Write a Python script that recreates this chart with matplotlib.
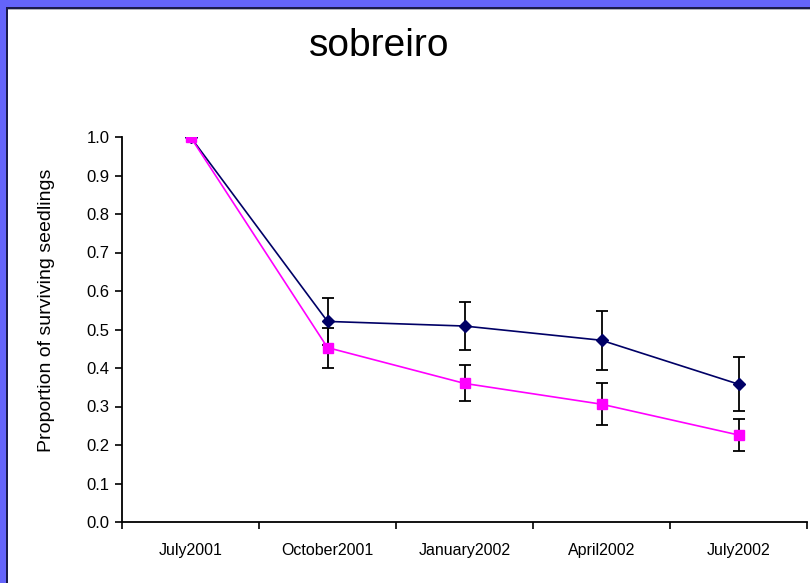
import numpy as np
import matplotlib.pyplot as plt
from matplotlib.patches import Rectangle

# data
dates = ["July2001", "October2001", "January2002", "April2002", "July2002"]
navy_vals = [1.0, 0.521, 0.509, 0.472, 0.358]
navy_err = [0.0, 0.062, 0.063, 0.076, 0.070]
pink_vals = [1.0, 0.453, 0.360, 0.306, 0.226]
pink_err = [0.0, 0.052, 0.047, 0.055, 0.042]

W, H = 810, 583
plt.rcParams['font.family'] = ['Liberation Sans', 'DejaVu Sans']

fig = plt.figure(figsize=(W / 100, H / 100), dpi=100, facecolor="white")

# blue slide frame (top and left edges visible)
fig.patches.append(Rectangle((0, 1 - 7 / H), 1, 7 / H, transform=fig.transFigure,
                             facecolor="#6464fa", edgecolor="none", zorder=0))
fig.patches.append(Rectangle((0, 0), 6 / W, 1, transform=fig.transFigure,
                             facecolor="#6464fa", edgecolor="none", zorder=0))
fig.patches.append(Rectangle((6 / W, 1 - 9 / H), 1, 2 / H, transform=fig.transFigure,
                             facecolor="#1a1a4a", edgecolor="none", zorder=0))
fig.patches.append(Rectangle((6 / W, 1 - 10 / H), 1, 1 / H, transform=fig.transFigure,
                             facecolor="#b0b0b8", edgecolor="none", zorder=0))
fig.patches.append(Rectangle((6 / W, 0), 2 / W, 1 - 7 / H, transform=fig.transFigure,
                             facecolor="#1a1a4a", edgecolor="none", zorder=0))

ax = fig.add_axes([122 / W, 1 - 522 / H, (807 - 122) / W, (522 - 137) / H])
ax.set_facecolor("none")

x = np.arange(len(dates))
ax.errorbar(x[1:], navy_vals[1:], yerr=navy_err[1:], fmt="none", ecolor="black",
            elinewidth=1.3, capsize=4, capthick=1.3, zorder=2)
ax.errorbar(x[1:], pink_vals[1:], yerr=pink_err[1:], fmt="none", ecolor="black",
            elinewidth=1.3, capsize=4, capthick=1.3, zorder=2)
ax.plot(x, navy_vals, color="#000066", linewidth=1.2, marker="D", markersize=6,
        markerfacecolor="#000066", markeredgecolor="#000066", zorder=3)
ax.plot(x, pink_vals, color="#ff00ff", linewidth=1.2, marker="s", markersize=7.5,
        markerfacecolor="#ff00ff", markeredgecolor="#ff00ff", zorder=3)

ax.set_xlim(-0.5, len(dates) - 0.5)
ax.set_ylim(0, 1.0)
ax.set_yticks(np.arange(0, 1.01, 0.1))
ax.set_yticklabels([f"{v:.1f}" for v in np.arange(0, 1.01, 0.1)], fontsize=12)
ax.set_xticks(np.arange(-0.5, len(dates), 1.0))
ax.set_xticklabels([])
ax.set_xticks(x, minor=True)
ax.set_xticklabels(dates, minor=True, fontsize=11.5)
ax.tick_params(axis="x", which="minor", length=0, pad=15)
ax.tick_params(axis="x", which="major", length=5, width=1.2, direction="out")
ax.tick_params(axis="y", length=5, width=1.2, direction="out", pad=4)

for s in ["top", "right"]:
    ax.spines[s].set_visible(False)
for s in ["left", "bottom"]:
    ax.spines[s].set_linewidth(1.3)

ax.set_ylabel("Proportion of surviving seedlings", fontsize=14)
ax.yaxis.set_label_coords(-0.098, 0.55)
fig.text(379 / W, 1 - 46 / H, "sobreiro", fontsize=28, ha="center", va="center")

plt.savefig("out.png", dpi=100)
